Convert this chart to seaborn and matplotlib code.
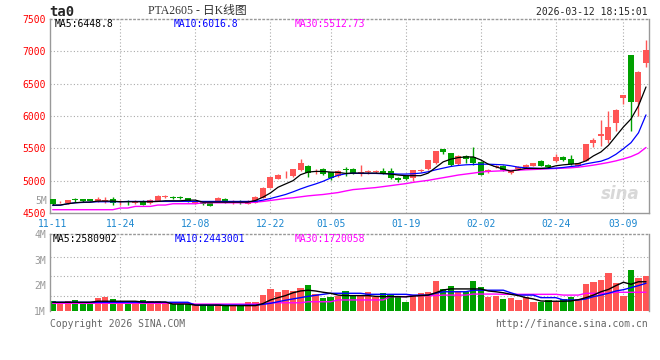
import numpy as np
import pandas as pd
import seaborn as sns
import matplotlib.pyplot as plt

# labels on the date axis and the trading-day index they sit on
date_labels = ['11-11', '11-24', '12-08', '12-22', '01-05', '01-19', '02-02', '02-24', '03-09']
date_index = [0, 9, 19, 29, 37, 47, 57, 67, 76]

# daily candles (80 trading days)
opens = [4709, 4665, 4653, 4706, 4709, 4709, 4679, 4690, 4709, 4663,
         4670, 4653, 4684, 4653, 4684, 4752, 4742, 4737, 4725, 4648,
         4663, 4658, 4689, 4719, 4653, 4689, 4638, 4658, 4735, 4888,
         5031, 5082, 5077, 5168, 5224, 5138, 5178, 5128, 5066, 5176,
         5178, 5122, 5133, 5133, 5148, 5148, 5046, 5066, 5036, 5150,
         5179, 5270, 5485, 5423, 5255, 5383, 5372, 5296, 5127, 5212,
         5230, 5122, 5179, 5204, 5230, 5311, 5245, 5306, 5367, 5332,
         5230, 5306, 5576, 5689, 5627, 5893, 6280, 6938, 6224, 6821]
closes = [4633, 4670, 4704, 4700, 4684, 4684, 4709, 4694, 4658, 4670,
          4665, 4689, 4628, 4704, 4770, 4757, 4737, 4732, 4684, 4668,
          4633, 4607, 4725, 4658, 4689, 4648, 4689, 4755, 4888, 5051,
          5092, 5087, 5173, 5275, 5117, 5143, 5102, 5041, 5153, 5170,
          5117, 5127, 5138, 5138, 5117, 5046, 5005, 5026, 5163, 5153,
          5316, 5454, 5444, 5250, 5383, 5342, 5270, 5092, 5168, 5214,
          5168, 5163, 5214, 5245, 5270, 5230, 5214, 5367, 5321, 5255,
          5270, 5561, 5627, 5714, 5836, 6086, 6321, 6209, 6683, 7015]
highs = [4720, 4680, 4706, 4735, 4720, 4715, 4755, 4745, 4745, 4699,
         4699, 4694, 4694, 4709, 4775, 4776, 4770, 4760, 4735, 4680,
         4675, 4663, 4745, 4725, 4704, 4704, 4694, 4760, 4895, 5060,
         5097, 5153, 5180, 5337, 5235, 5184, 5190, 5138, 5163, 5214,
         5200, 5245, 5160, 5160, 5194, 5189, 5060, 5077, 5168, 5178,
         5322, 5460, 5495, 5430, 5390, 5395, 5520, 5310, 5175, 5240,
         5245, 5170, 5230, 5260, 5280, 5320, 5255, 5418, 5380, 5393,
         5280, 5570, 5663, 5944, 6071, 6107, 6330, 6945, 6693, 7168]
lows = [4625, 4655, 4635, 4668, 4675, 4680, 4675, 4658, 4623, 4623,
        4628, 4645, 4620, 4640, 4680, 4735, 4709, 4714, 4675, 4640,
        4620, 4605, 4684, 4650, 4635, 4640, 4633, 4650, 4730, 4880,
        5020, 5041, 5060, 5143, 5051, 5102, 5090, 5015, 5060, 5066,
        5100, 5076, 5110, 5120, 5110, 5030, 4985, 5015, 5000, 5135,
        5160, 5260, 5408, 5220, 5240, 5280, 5250, 5080, 5115, 5190,
        5155, 5100, 5170, 5195, 5225, 5220, 5200, 5295, 5300, 5245,
        5225, 5300, 5515, 5536, 5576, 5765, 6178, 5765, 5995, 6760]

# moving averages drawn on the price panel
ma5 = [4623, 4623, 4643, 4658, 4668, 4668, 4684, 4684, 4684, 4674,
       4674, 4674, 4674, 4674, 4679, 4689, 4689, 4689, 4699, 4699,
       4668, 4668, 4668, 4668, 4668, 4668, 4668, 4694, 4745, 4811,
       4898, 4949, 5000, 5092, 5133, 5143, 5143, 5133, 5128, 5112,
       5117, 5117, 5117, 5117, 5112, 5102, 5087, 5077, 5077, 5077,
       5117, 5204, 5291, 5332, 5357, 5367, 5367, 5321, 5255, 5214,
       5179, 5148, 5168, 5189, 5189, 5189, 5199, 5230, 5245, 5255,
       5265, 5306, 5383, 5444, 5546, 5689, 5831, 5954, 6158, 6448.8]
ma10 = [4617, 4620, 4643, 4658, 4663, 4668, 4674, 4674, 4674, 4674,
        4679, 4679, 4679, 4679, 4679, 4679, 4679, 4679, 4679, 4679,
        4679, 4679, 4679, 4679, 4679, 4679, 4679, 4679, 4699, 4725,
        4755, 4786, 4827, 4872, 4913, 4949, 4990, 5041, 5082, 5107,
        5115, 5112, 5112, 5112, 5107, 5107, 5102, 5102, 5107, 5117,
        5138, 5168, 5194, 5219, 5235, 5245, 5250, 5255, 5255, 5250,
        5245, 5230, 5209, 5199, 5194, 5189, 5189, 5194, 5204, 5219,
        5230, 5260, 5281, 5301, 5342, 5408, 5495, 5587, 5740, 6016.8]
ma30 = [4551, 4551, 4551, 4551, 4551, 4551, 4551, 4551, 4551, 4577,
        4577, 4602, 4602, 4602, 4623, 4623, 4643, 4643, 4643, 4643,
        4658, 4658, 4658, 4658, 4658, 4658, 4658, 4668, 4679, 4694,
        4709, 4725, 4735, 4750, 4765, 4776, 4786, 4801, 4816, 4840,
        4862, 4872, 4883, 4893, 4908, 4923, 4939, 4954, 4974, 4990,
        5005, 5026, 5046, 5066, 5087, 5102, 5117, 5133, 5143, 5148,
        5153, 5158, 5163, 5168, 5173, 5178, 5184, 5189, 5194, 5199,
        5209, 5224, 5240, 5260, 5281, 5306, 5337, 5372, 5423, 5512.73]

# volume in millions, on the scale of the 1M-4M axis labels
volumes = [1.39, 1.29, 1.39, 1.43, 1.29, 1.29, 1.51, 1.55, 1.47, 1.34,
           1.31, 1.36, 1.43, 1.39, 1.39, 1.27, 1.34, 1.29, 1.29, 1.23,
           1.23, 1.23, 1.26, 1.18, 1.18, 1.23, 1.34, 1.36, 1.62, 1.86,
           1.75, 1.82, 1.78, 1.90, 2.01, 1.66, 1.52, 1.56, 1.58, 1.78,
           1.62, 1.60, 1.74, 1.56, 1.70, 1.62, 1.57, 1.35, 1.62, 1.71,
           1.74, 2.18, 1.86, 1.97, 1.78, 1.74, 2.18, 1.94, 1.53, 1.57,
           1.47, 1.52, 1.43, 1.55, 1.35, 1.35, 1.43, 1.36, 1.47, 1.56,
           1.47, 2.05, 2.13, 2.21, 2.48, 2.08, 1.57, 2.60, 2.30, 2.36]
vol_ma5 = [1.34, 1.34, 1.34, 1.34, 1.34, 1.34, 1.38, 1.38, 1.38, 1.38,
           1.38, 1.38, 1.35, 1.35, 1.35, 1.35, 1.27, 1.27, 1.27, 1.23,
           1.23, 1.23, 1.23, 1.21, 1.21, 1.21, 1.21, 1.21, 1.29, 1.43,
           1.52, 1.60, 1.71, 1.78, 1.81, 1.78, 1.73, 1.69, 1.62, 1.60,
           1.60, 1.60, 1.60, 1.57, 1.56, 1.56, 1.56, 1.55, 1.58, 1.60,
           1.62, 1.71, 1.82, 1.86, 1.86, 1.86, 1.86, 1.86, 1.78, 1.75,
           1.71, 1.65, 1.60, 1.52, 1.47, 1.39, 1.38, 1.38, 1.38, 1.39,
           1.44, 1.52, 1.62, 1.75, 1.84, 1.99, 2.12, 2.04, 2.14, 2.14]
vol_ma10 = [1.34, 1.34, 1.34, 1.34, 1.34, 1.34, 1.34, 1.34, 1.34, 1.34,
            1.34, 1.34, 1.34, 1.34, 1.34, 1.34, 1.34, 1.34, 1.34, 1.23,
            1.23, 1.23, 1.23, 1.23, 1.23, 1.23, 1.23, 1.23, 1.26, 1.30,
            1.36, 1.42, 1.47, 1.52, 1.57, 1.61, 1.65, 1.69, 1.69, 1.69,
            1.69, 1.69, 1.65, 1.65, 1.65, 1.65, 1.65, 1.65, 1.62, 1.62,
            1.62, 1.69, 1.75, 1.75, 1.75, 1.75, 1.81, 1.81, 1.81, 1.81,
            1.81, 1.71, 1.62, 1.62, 1.62, 1.52, 1.52, 1.52, 1.43, 1.43,
            1.43, 1.47, 1.56, 1.62, 1.69, 1.78, 1.83, 1.91, 1.99, 2.08]
vol_ma30 = [1.30, 1.30, 1.30, 1.30, 1.30, 1.30, 1.30, 1.30, 1.30, 1.30,
            1.30, 1.30, 1.30, 1.30, 1.30, 1.30, 1.30, 1.30, 1.30, 1.27,
            1.27, 1.27, 1.27, 1.27, 1.27, 1.27, 1.27, 1.27, 1.27, 1.32,
            1.32, 1.32, 1.32, 1.32, 1.36, 1.36, 1.36, 1.36, 1.43, 1.43,
            1.43, 1.43, 1.43, 1.43, 1.43, 1.56, 1.56, 1.56, 1.60, 1.60,
            1.60, 1.60, 1.62, 1.62, 1.62, 1.62, 1.66, 1.66, 1.66, 1.66,
            1.65, 1.65, 1.65, 1.65, 1.65, 1.65, 1.65, 1.65, 1.62, 1.62,
            1.62, 1.69, 1.69, 1.69, 1.69, 1.73, 1.73, 1.73, 1.73, 1.73]

sns.set_style('white')
plt.rcParams['font.family'] = ['DejaVu Sans Mono', 'Noto Sans CJK SC']

RED = '#FF5555'
GREEN = '#00A000'
GRID = '#AAAAAA'
FRAME = '#999999'
DOTS = (0, (1, 2))

W, H = 660, 360


def box(l, t, r, b):
    # pixel box -> figure fraction
    return [l / W, 1 - b / H, (r - l) / W, (b - t) / H]


def px(x, y):
    return x / W, 1 - y / H


idx = np.arange(len(closes))
o = np.array(opens, dtype=float)
c = np.array(closes, dtype=float)
up = c >= o
colors = np.where(up, RED, GREEN)

fig = plt.figure(figsize=(6.6, 3.6), dpi=100)
ax = fig.add_axes(box(50, 19, 649, 213))
axv = fig.add_axes(box(50, 234, 649, 311))

# ---- price panel ----
for v in [5000, 5500, 6000, 6500, 7000]:
    ax.axhline(v, color=GRID, lw=0.8, ls=DOTS, zorder=0)
for i in date_index[1:]:
    ax.axvline(i, color=GRID, lw=0.8, ls=DOTS, zorder=0)

ax.vlines(idx, lows, highs, colors=colors, lw=1, zorder=2)
body_h = np.maximum(np.abs(c - o), 12)
ax.bar(idx, body_h, bottom=np.minimum(o, c), width=0.8, color=colors, lw=0, zorder=3)

sns.lineplot(x=idx, y=ma30, color='#FF00FF', lw=1.0, ax=ax, zorder=4)
sns.lineplot(x=idx, y=ma10, color='#0000FF', lw=0.9, ax=ax, zorder=4)
sns.lineplot(x=idx, y=ma5, color='black', lw=0.9, ax=ax, zorder=4)

ax.set_xlim(-0.36, 79.4)
ax.set_ylim(4500, 7500)
ax.set_yticks([4500, 5000, 5500, 6000, 6500, 7000, 7500])
ax.set_xticks(date_index, date_labels)
ax.tick_params(axis='y', length=0, pad=3, labelsize=7, labelcolor='#FF0000')
ax.tick_params(axis='x', length=0, pad=4, labelsize=7, labelcolor='#1A86CF')
ax.set_xlabel('')
ax.set_ylabel('')
for s in ax.spines.values():
    s.set_color(FRAME)
    s.set_linewidth(1)
ax.spines['top'].set_linestyle(DOTS)

ax.text(0.985, 0.1, 'sina', transform=ax.transAxes, ha='right', va='center',
        fontsize=12, fontstyle='italic', fontweight='bold', color='#D8D8D8',
        family='DejaVu Sans', zorder=1)

# ---- volume panel ----
vol_df = pd.DataFrame({'day': idx, 'vol': volumes,
                       'dir': np.where(up, 'up', 'down')})
sns.barplot(data=vol_df, x='day', y='vol', hue='dir',
            palette={'up': RED, 'down': GREEN}, dodge=False,
            saturation=1, legend=False, ax=axv, zorder=2)
# seaborn narrows the bars when hue is set; widen them back around their centres
for p in axv.patches:
    mid = p.get_x() + p.get_width() / 2
    p.set_width(0.85)
    p.set_x(mid - 0.425)
    p.set_linewidth(0)

for v in [1.6, 2.35, 3.1]:
    axv.axhline(v, color=GRID, lw=0.8, ls=DOTS, zorder=0)
for i in date_index[1:]:
    axv.axvline(i, color=GRID, lw=0.8, ls=DOTS, zorder=0)

sns.lineplot(x=idx, y=vol_ma30, color='#FF00FF', lw=1.0, ax=axv, zorder=4)
sns.lineplot(x=idx, y=vol_ma10, color='#0000FF', lw=1.0, ax=axv, zorder=4)
sns.lineplot(x=idx, y=vol_ma5, color='black', lw=1.0, ax=axv, zorder=4)

axv.set_xlim(-0.36, 79.4)
axv.set_ylim(1, 4)
axv.set_xticks([])
axv.set_yticks([1, 2, 3, 4], ['1M', '2M', '3M', '4M'])
axv.tick_params(axis='y', length=0, pad=3, labelsize=7, labelcolor=FRAME)
axv.set_xlabel('')
axv.set_ylabel('')
for s in axv.spines.values():
    s.set_color(FRAME)
    s.set_linewidth(1)
axv.spines['top'].set_linestyle(DOTS)
axv.spines['bottom'].set_visible(False)

# ---- texts around the panels ----
fig.text(*px(49, 12), 'ta0', fontsize=10, fontweight='bold', va='center')
fig.text(*px(197, 11), 'PTA2605 - 日K线图', fontsize=8.5, color='#333333',
         ha='center', va='center', family=['Liberation Serif', 'Noto Sans CJK SC'])
fig.text(*px(648, 12), '2026-03-12 18:15:01', fontsize=7, ha='right', va='center')

fig.text(*px(55, 24), 'MA5:6448.8', fontsize=7, va='center', color='black')
fig.text(*px(174, 24), 'MA10:6016.8', fontsize=7, va='center', color='#0000FF')
fig.text(*px(295, 24), 'MA30:5512.73', fontsize=7, va='center', color='#FF00FF')

fig.text(*px(47, 201), '5M', fontsize=7, ha='right', va='center', color=FRAME)

fig.text(*px(53, 239), 'MA5:2580902', fontsize=7, va='center', color='black')
fig.text(*px(175, 239), 'MA10:2443001', fontsize=7, va='center', color='#0000FF')
fig.text(*px(295, 239), 'MA30:1720058', fontsize=7, va='center', color='#FF00FF')

fig.text(*px(50, 324), 'Copyright 2026 SINA.COM', fontsize=7, va='center', color='#666666')
fig.text(*px(648, 324), 'http://finance.sina.com.cn', fontsize=7, ha='right',
         va='center', color='#666666')

fig.savefig('out.png', dpi=100)
